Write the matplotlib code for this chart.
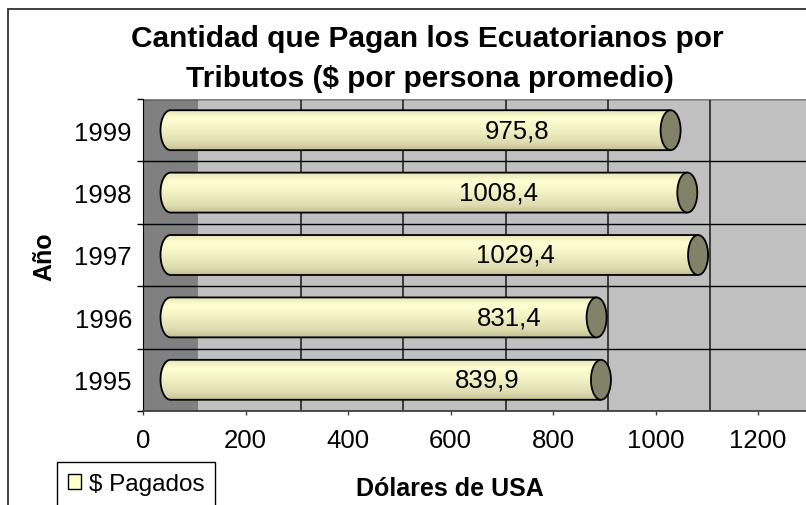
import numpy as np
import matplotlib
matplotlib.use("Agg")
import matplotlib.pyplot as plt
from matplotlib.patches import Ellipse, PathPatch, Rectangle, Patch
from matplotlib.path import Path
from matplotlib.colors import LinearSegmentedColormap

plt.rcParams["font.family"] = ["Liberation Sans", "DejaVu Sans"]

# Data
years = ["1995", "1996", "1997", "1998", "1999"]
pagados = [839.9, 831.4, 1029.4, 1008.4, 975.8]
value_labels = ["839,9", "831,4", "1029,4", "1008,4", "975,8"]
x_ticks = [0, 200, 400, 600, 800, 1000, 1200]
title_lines = ["Cantidad que Pagan los Ecuatorianos por",
               "Tributos ($ por persona promedio)"]

# layout (pixels -> figure fractions)
W, H = 806, 506
fig = plt.figure(figsize=(W / 100, H / 100), dpi=100)
fig.patch.set_facecolor("white")

ax_l, ax_r, ax_t, ax_b = 143, 806, 100, 412
ax = fig.add_axes([ax_l / W, 1 - ax_b / H, (ax_r - ax_l) / W, (ax_b - ax_t) / H])

px_per_unit = 615 / 1200.0
xmax = (ax_r - ax_l) / px_per_unit
depth = 55 / px_per_unit          # side wall depth in value units
shift = depth / 2                 # cylinder sits mid depth
cap_a = 10 / px_per_unit          # half width of cap ellipse
half_h = 0.32                     # half bar height (category units)

ax.set_xlim(0, xmax)
ax.set_ylim(-0.5, len(years) - 0.5)
ax.set_facecolor("#C0C0C0")

# dark side wall
ax.axvspan(0, depth, color="#808080", zorder=0.5, lw=0)

# back wall vertical gridlines
for t in x_ticks[1:]:
    ax.axvline(t + depth, color="#303030", lw=1.3, zorder=0.6)
# category separators
for k in range(len(years) + 1):
    ax.axhline(k - 0.5, color="black", lw=1.0, zorder=0.7)

cmap = LinearSegmentedColormap.from_list(
    "cyl", [(0.0, "#E6E6B8"), (0.2, "#FFFFD2"), (0.45, "#F4F4C6"),
            (0.8, "#DEDCB0"), (1.0, "#C4C094")])
grad = np.linspace(0, 1, 256).reshape(-1, 1)

label_x = [671, 714, 726, 693, 730]

for i, v in enumerate(pagados):
    yc = i
    yt, yb = yc + half_h, yc - half_h
    x0, x1 = shift, v + shift
    # body outline: top edge, left half ellipse, bottom edge
    th = np.linspace(np.pi / 2, 3 * np.pi / 2, 40)
    ex = x0 + cap_a * np.cos(th)
    ey = yc + half_h * np.sin(th)
    verts = [(x1, yt)] + list(zip(ex, ey)) + [(x1, yb), (x1, yt)]
    codes = [Path.MOVETO] + [Path.LINETO] * (len(verts) - 1)
    body = Path(verts, codes)
    clip = PathPatch(body, facecolor="none", edgecolor="none", transform=ax.transData)
    ax.add_patch(clip)
    im = ax.imshow(grad, cmap=cmap, aspect="auto", origin="upper",
                   extent=[x0 - cap_a, x1, yb, yt], zorder=2, interpolation="bilinear")
    im.set_clip_path(clip)
    outline = Path(verts[:-1], codes[:-1])
    ax.add_patch(PathPatch(outline, facecolor="none", edgecolor="black", lw=1.3, zorder=3))
    ax.add_patch(Ellipse((x1, yc), 2 * cap_a, 2 * half_h, facecolor="#828268",
                         edgecolor="black", lw=1.3, zorder=4))
    ax.text(label_x[i], yc, value_labels[i], ha="center", va="center",
            fontsize=18.5, color="black", zorder=5)

ax.set_xlim(0, xmax)
ax.set_ylim(-0.5, len(years) - 0.5)

ax.set_xticks(x_ticks)
ax.set_xticklabels([str(t) for t in x_ticks], fontsize=18.5)
ax.tick_params(axis="x", length=3, width=1, color="#404040", pad=9)
ax.set_yticks(range(len(years)))
ax.set_yticklabels(years, fontsize=18.5)
ax.tick_params(axis="y", which="major", length=0, pad=8)
ax.set_yticks([k - 0.5 for k in range(len(years) + 1)], minor=True)
ax.tick_params(axis="y", which="minor", length=4.5, width=1, color="black")

for s in ["top", "right"]:
    ax.spines[s].set_visible(False)
ax.spines["left"].set_color("black")
ax.spines["bottom"].set_color("#404040")
ax.spines["bottom"].set_linewidth(1.3)
ax.axhline(len(years) - 0.5, color="#808080", lw=1.5, zorder=0.8)

# titles and axis labels
fig.text(427 / W, 1 - 47 / H, title_lines[0], ha="center", va="baseline",
         fontsize=21.5, fontweight="bold")
fig.text(430 / W, 1 - 87 / H, title_lines[1], ha="center", va="baseline",
         fontsize=21.5, fontweight="bold")
fig.text(44 / W, 1 - 257 / H, "Año", rotation=90, ha="center", va="center",
         fontsize=18, fontweight="bold")
fig.text(450 / W, 1 - 496 / H, "Dólares de USA", ha="center", va="baseline",
         fontsize=18, fontweight="bold")

# chart border (runs off the right and bottom edges)
fig.patches.append(Rectangle((8 / W, -0.1), 1.1, 1 - 10 / H + 0.1, transform=fig.transFigure,
                             facecolor="none", edgecolor="#303030", lw=1.3))

leg = fig.legend(handles=[Patch(facecolor="#FFFFCC", edgecolor="black", label="$ Pagados")],
                 loc="upper left", bbox_to_anchor=(57 / W, 1 - 463 / H), fontsize=17.5,
                 frameon=True, fancybox=False, edgecolor="black", framealpha=1,
                 handlelength=0.55, handleheight=0.55, handletextpad=0.3,
                 borderpad=0.45, borderaxespad=0)
leg.get_frame().set_linewidth(1.0)

fig.savefig("out.png", dpi=100)
